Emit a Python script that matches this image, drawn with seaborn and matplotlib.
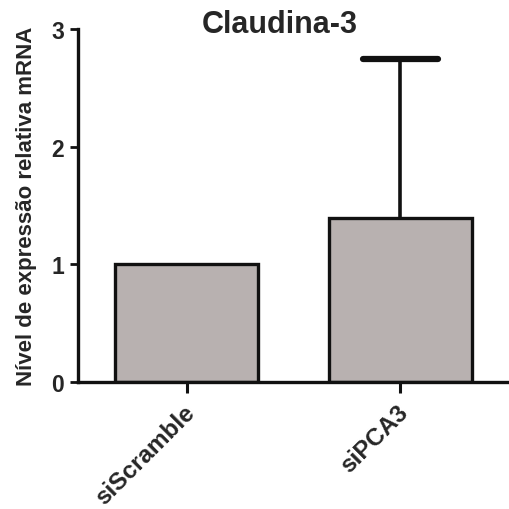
import numpy as np
import pandas as pd
import matplotlib; matplotlib.use('Agg')
import matplotlib.pyplot as plt
import matplotlib.transforms as mtrans
import seaborn as sns

# ── DATA ──────────────────────────────────────────────────
groups   = ['siScramble', 'siPCA3']
means    = [1.0, 1.39]
err_up   = [0.0, 1.36]
y_ticks  = [0, 1, 2, 3]

BAR_COLOR = '#b8b1b0'
INK       = '#111111'

sns.set_style('white')
plt.rcParams['font.family'] = ['Liberation Sans', 'DejaVu Sans']
plt.rcParams['font.weight'] = 'bold'

df = pd.DataFrame({'group': groups, 'value': means})

fig = plt.figure(figsize=(5.09, 5.10), dpi=100, facecolor='white')
ax = fig.add_axes([0.153, 0.249, 0.845, 0.692])

sns.barplot(data=df, x='group', y='value', color=BAR_COLOR, width=0.67,
            errorbar=None, edgecolor=INK, linewidth=2.4, saturation=1,
            ax=ax, zorder=2)

# upper-only error bar (stem from bar top, cap at top)
CAP_HALF = 0.175
for i, (m, e) in enumerate(zip(means, err_up)):
    if e > 0:
        ax.vlines(i, m, m + e, color=INK, lw=2.6, zorder=1)
        ax.hlines(m + e, i - CAP_HALF, i + CAP_HALF, color=INK, lw=4.5,
                  zorder=1, capstyle='round')

ax.set_xlim(-0.51, 1.505)
ax.set_ylim(0, 3)

for s in ['top', 'right']:
    ax.spines[s].set_visible(False)
for s in ['left', 'bottom']:
    ax.spines[s].set_linewidth(2.4)
    ax.spines[s].set_color(INK)
ax.tick_params(axis='y', left=True, length=6, width=2, color=INK, pad=4)
ax.tick_params(axis='x', bottom=True, length=8, width=2.2, color=INK, pad=5)

ax.set_yticks(y_ticks)
ax.set_yticklabels([str(t) for t in y_ticks], fontsize=16.5, fontweight='bold')
ax.set_xticks(range(len(groups)))
ax.set_xticklabels(groups, rotation=45, ha='right', rotation_mode='anchor',
                   fontsize=17.5, fontweight='bold')
# nudge rotated labels so their ends sit under the ticks
shift = mtrans.ScaledTranslation(-4 / 100, 0, fig.dpi_scale_trans)
for lbl in ax.get_xticklabels():
    lbl.set_transform(lbl.get_transform() + shift)

ax.set_xlabel('')
ax.set_ylabel('Nível de expressão relativa mRNA', fontsize=16,
              fontweight='bold', labelpad=10)
ax.set_title('Claudina-3', fontsize=22, fontweight='bold', pad=-2, x=0.47)

plt.savefig('out.png', dpi=100, facecolor='white')
plt.close()
